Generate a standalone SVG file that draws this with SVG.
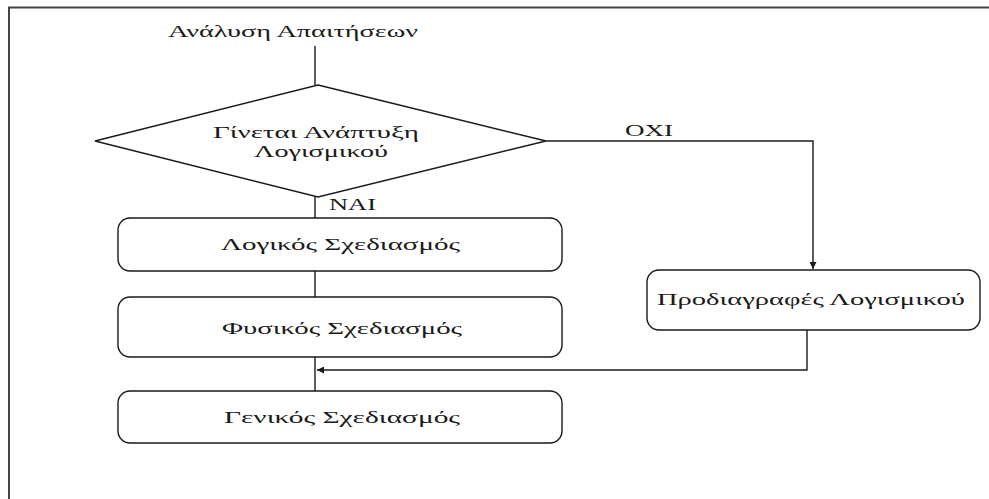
<svg xmlns="http://www.w3.org/2000/svg" width="989" height="499" viewBox="0 0 989 499">
<style>
.box{fill:#fff;stroke:#1a1a1a;stroke-width:1.4}
.ln{fill:none;stroke:#1a1a1a;stroke-width:1.4}
.t{font-family:"Liberation Serif","DejaVu Serif",serif;font-size:17px;fill:#1a1a1a}
.s{font-size:16px}
</style>
<defs>
<marker id="ah" viewBox="0 0 10 10" refX="10" refY="5" markerWidth="9" markerHeight="7" markerUnits="userSpaceOnUse" orient="auto">
<path d="M0,0 L10,5 L0,10 z" fill="#1a1a1a"/>
</marker>
</defs>
<rect width="989" height="499" fill="#fff"/>
<path d="M9,499 V7.5 H989" fill="none" stroke="#444" stroke-width="2"/>

<g id="connectors">
<line class="ln" x1="315" y1="46" x2="315" y2="85"/>
<line class="ln" x1="315" y1="197" x2="315" y2="218"/>
<path class="ln" d="M546,141 H813 V269" marker-end="url(#ah)"/>
<line class="ln" x1="315" y1="271" x2="315" y2="297"/>
<line class="ln" x1="315" y1="357" x2="315" y2="391"/>
<path class="ln" d="M807,330 V370 H317" marker-end="url(#ah)"/>
</g>

<g id="start">
<text class="t s" x="168" y="37" textLength="250" lengthAdjust="spacingAndGlyphs">Ανάλυση Απαιτήσεων</text>
</g>

<g id="decision">
<polygon class="box" points="318,85 546,141 318,197 95,141"/>
<text class="t s" x="213" y="138" textLength="206" lengthAdjust="spacingAndGlyphs">Γίνεται Ανάπτυξη</text>
<text class="t s" x="254" y="157" textLength="134" lengthAdjust="spacingAndGlyphs">Λογισμικού</text>
</g>

<g id="labels">
<text class="t s" x="329" y="210" textLength="47" lengthAdjust="spacingAndGlyphs">ΝΑΙ</text>
<text class="t s" x="625" y="136" textLength="48" lengthAdjust="spacingAndGlyphs">ΟΧΙ</text>
</g>

<g id="logikos">
<rect class="box" x="118" y="218" width="444" height="53" rx="12"/>
<text class="t" x="221" y="250" textLength="239" lengthAdjust="spacingAndGlyphs">Λογικός Σχεδιασμός</text>
</g>

<g id="fysikos">
<rect class="box" x="118" y="297" width="444" height="60" rx="12"/>
<text class="t" x="222" y="334" textLength="240" lengthAdjust="spacingAndGlyphs">Φυσικός Σχεδιασμός</text>
</g>

<g id="genikos">
<rect class="box" x="118" y="391" width="444" height="52" rx="12"/>
<text class="t" x="224" y="423" textLength="236" lengthAdjust="spacingAndGlyphs">Γενικός Σχεδιασμός</text>
</g>

<g id="prodiagrafes">
<rect class="box" x="647" y="270" width="333" height="60" rx="12"/>
<text class="t" x="657" y="305" textLength="308" lengthAdjust="spacingAndGlyphs">Προδιαγραφές Λογισμικού</text>
</g>
</svg>
